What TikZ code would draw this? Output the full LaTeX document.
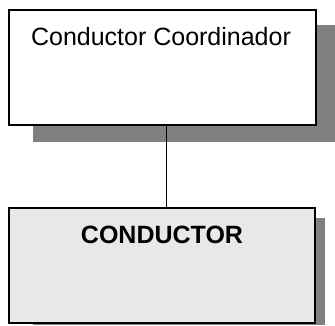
\documentclass[tikz,border=0pt]{standalone}
\usepackage{fontspec}
\setmainfont{Liberation Sans}
\definecolor{shadowgray}{HTML}{808080}
\definecolor{panelgray}{HTML}{E8E8E8}
\begin{document}
\begin{tikzpicture}[x=1pt,y=-1pt,
  box/.style={draw=black, line width=1.2pt, rectangle, inner sep=0pt},
  title/.style={anchor=base, font=\fontsize{25}{30}\selectfont, inner sep=0pt},
  link/.style={draw=black, line width=1pt}]
\useasboundingbox (0,0) rectangle (335,325);
% drop shadows
\fill[shadowgray] (33,25) rectangle (335,142);
\fill[shadowgray] (33,218) rectangle (325,325);
% boxes
\node[box, fill=white, minimum width=307pt, minimum height=115pt] (coord) at (162.5,67.5) {};
\node[box, fill=panelgray, minimum width=306pt, minimum height=115pt] (cond) at (162,265.5) {};
% labels
\node[title] (coordtxt) at (161,45) {Conductor Coordinador};
\node[title, font=\fontsize{25}{30}\selectfont\bfseries] (condtxt) at (162,243) {CONDUCTOR};
% connector
\draw[link] ([xshift=3.5pt]coord.south) -- ([xshift=3.5pt]coord.south |- cond.north);
\end{tikzpicture}
\end{document}
